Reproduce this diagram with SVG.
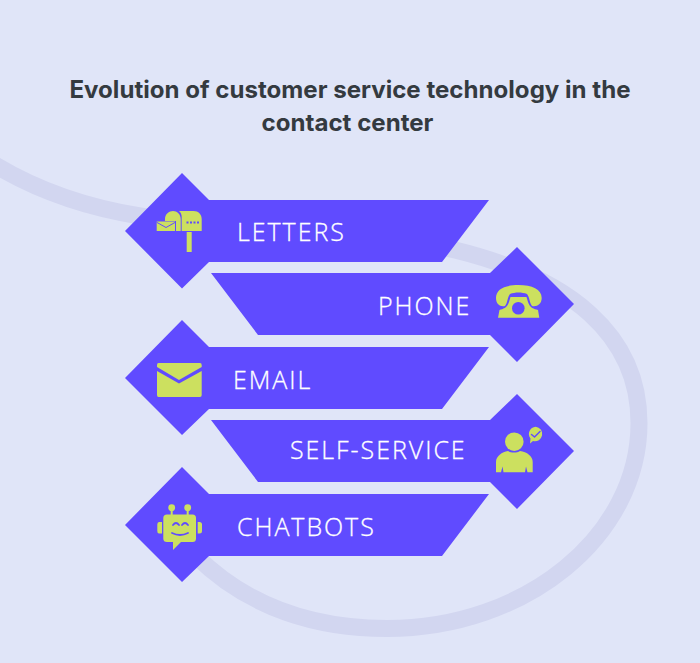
<svg xmlns="http://www.w3.org/2000/svg" width="700" height="663" viewBox="0 0 700 663">
<style>
.title{font-family:Inter,"Liberation Sans",sans-serif;font-weight:700;font-size:24.1px;fill:#343a40;text-anchor:middle}
.label{font-family:"Open Sans","Liberation Sans",sans-serif;font-weight:300;font-size:25px;letter-spacing:1.95px;fill:#fff;stroke:#fff;stroke-width:.3px}
.shape{fill:#604bff}
.icon{fill:#cce05f}
.cutline{fill:none;stroke:#604bff;stroke-linecap:round;stroke-linejoin:round}
.line{fill:none;stroke:#d2d6f0;stroke-width:17}
</style>
<rect width="700" height="663" fill="#e0e5f8"/>
<g id="connectors">
<path class="line" d="M-5 165C40 192 90 208 140 216C250 232 380 232 455 250C570 278 639 335 639 423C639 536 526 628.500 387 628.500C320 628.500 250 610 195 555"/>
</g>
<text class="title" x="350" y="98">Evolution of customer service technology in the</text>
<text class="title" x="347.500" y="131">contact center</text>
<g id="letters">
<path class="shape" d="M125 231L182 173L209 200H489L442 262H209L182 288.500Z"/>
<path class="icon" d="M165 221V219C165 214 169 211 173 211C177 211 180.700 214 180.700 219V231H176V221Z"/>
<path class="icon" d="M156.700 221.500H175V231H156.700Z"/>
<path class="cutline" stroke-width="1" d="M157 222.500L166 227.500L175 222.500"/>
<path class="icon" d="M181.700 231V217C181.700 215 181 212.500 179 211H193.500C198.500 211 201.700 214.500 201.700 219V231ZM186.500 221.500V223.500H188.500V221.500ZM190 221.500V223.500H192V221.500ZM193.500 221.500V223.500H195.500V221.500ZM197 221.500V223.500H199V221.500ZM186.700 232H191.700V252H186.700Z" fill-rule="evenodd"/>
<text class="label" x="237" y="241">LETTERS</text>
</g>
<g id="phone">
<path class="shape" d="M574 304L517 247L490 273H211L258 335H490L517 362Z"/>
<path class="icon" d="M496 298C496 289 505 285 518.500 285C532 285 541.700 289 541.700 298C541.700 304 537 307 532 306C529 302 530 298 527 294C522 292 515 292 510 294C507 298 508 302 505 306C500 307 496 304 496 298Z"/>
<path class="icon" d="M498 317.700L499.500 310C503 309 507 308 509 302L510.500 297H526.500L528 302C530 308 534 309 538 310L539.300 317.700Z"/>
<circle class="shape" cx="518.300" cy="308.300" r="6.300"/>
<text class="label" x="378" y="315">PHONE</text>
</g>
<g id="email">
<path class="shape" d="M125 378L182 320L209 347H489L442 409H209L182 435Z"/>
<path class="icon" d="M158.500 363H200Q201.700 363 201.700 365V367L179 380L157 367V365Q157 363 158.500 363ZM157 371L179 383.500L201.700 371V395Q201.700 397 200 397H158.500Q157 397 157 395Z"/>
<text class="label" x="233" y="389">EMAIL</text>
</g>
<g id="self-service">
<path class="shape" d="M574 451L517 394L490 420H211L258 482H490L517 509Z"/>
<circle class="icon" cx="514.300" cy="441.700" r="9.300"/>
<path class="icon" d="M496 472.300V462C496 456 502 452 508 451C511 453 517 453 520 451C527 452 532.700 456 532.700 462V472.300H527.500L526 466.500L525 472.300H503.500L502.500 466.500L501 472.300Z"/>
<path class="icon" d="M535.700 426.700A7.300 7.300 0 1 1 533 441L530 443.500L530.500 438.500A7.300 7.300 0 0 1 535.700 426.700Z"/>
<path class="cutline" stroke-width="1.500" d="M531.500 434.500L534.500 437L540 431.500"/>
<text class="label" x="290" y="459">SELF-SERVICE</text>
</g>
<g id="chatbots">
<path class="shape" d="M125 525L182 467L209 494H489L442 556H209L182 582Z"/>
<circle class="icon" cx="171.700" cy="507.700" r="3.400"/>
<circle class="icon" cx="187.700" cy="507.700" r="3.400"/>
<path class="icon" d="M170.700 508H172.700V516H170.700ZM186.700 508H188.700V516H186.700Z"/>
<path class="icon" d="M167 514.500H192.500Q196 514.500 196 518V538.500Q196 542 192.500 542H181L173 550V542H167Q163.300 542 163.300 538.500V518Q163.300 514.500 167 514.500Z"/>
<path class="icon" d="M162 522V533.500H159Q157.300 533.500 157.300 531V524.500Q157.300 522 159 522ZM197.700 522H199.500Q202 522 202 524.500V531Q202 533.500 199.500 533.500H197.700Z"/>
<path class="cutline" stroke-width="1.800" d="M173 525Q176 521 179 525M182 525Q185 521 188 525M172 533Q180 537 188 533"/>
<text class="label" x="237" y="536">CHATBOTS</text>
</g>
</svg>
